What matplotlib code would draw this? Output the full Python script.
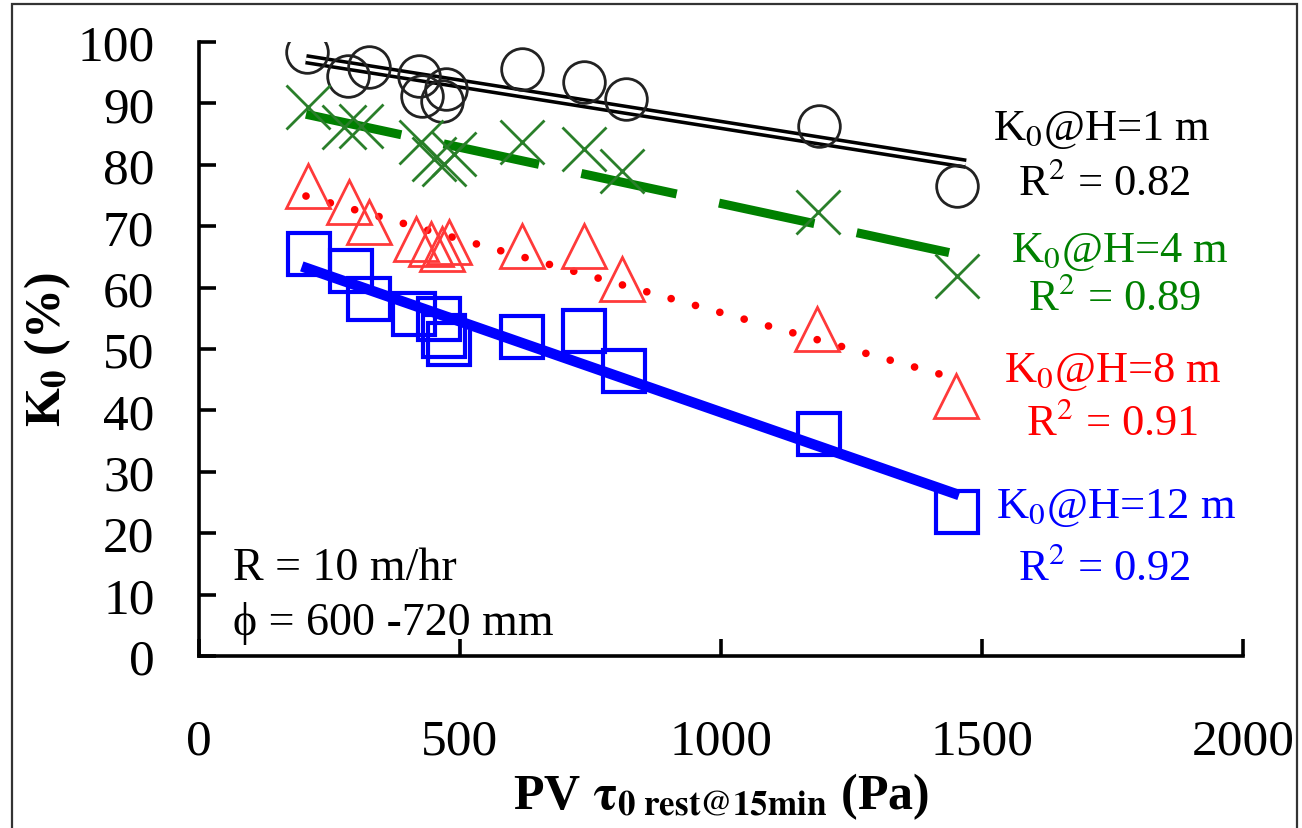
import numpy as np
import matplotlib
matplotlib.use("Agg")
import matplotlib.pyplot as plt
from matplotlib.patches import Rectangle

plt.rcParams['font.family'] = ['Liberation Serif', 'DejaVu Serif']
plt.rcParams['mathtext.fontset'] = 'stix'

# ---- data ----
x_h1 = [207, 285, 326, 421, 427, 466, 473, 619, 738, 818, 1188, 1452]
y_h1 = [98.4, 94.5, 95.9, 94.5, 91.2, 90.4, 92.3, 95.6, 93.5, 90.7, 86.3, 76.5]

x_h4 = [209, 278, 310, 425, 450, 469, 488, 619, 738, 810, 1186, 1452]
y_h4 = [89.4, 86.2, 86.3, 83.7, 81.0, 80.1, 81.8, 83.7, 82.6, 79.0, 72.3, 61.9]

x_h8 = [209, 287, 326, 416, 444, 466, 479, 619, 738, 810, 1184, 1450]
y_h8 = [76.5, 73.9, 70.7, 67.9, 67.1, 66.3, 67.4, 66.8, 66.8, 61.4, 53.3, 42.3]

x_h12 = [211, 291, 326, 412, 460, 469, 479, 619, 738, 814, 1188, 1452]
y_h12 = [65.5, 62.7, 58.1, 55.7, 54.9, 52.1, 50.8, 52.0, 52.9, 46.4, 36.2, 23.5]

# x extent of each trendline as drawn in the picture
trend_x_h1 = [205, 1469]
trend_x_h4 = [205, 1437]
trend_x_h8 = [205, 1435]
trend_x_h12 = [197, 1456]

series_labels = ['K$_0$@H=1 m', 'K$_0$@H=4 m', 'K$_0$@H=8 m', 'K$_0$@H=12 m']
r2_labels = ['R$^2$ = 0.82', 'R$^2$ = 0.89', 'R$^2$ = 0.91', 'R$^2$ = 0.92']
x_ticks = [0, 500, 1000, 1500, 2000]
y_ticks = [0, 10, 20, 30, 40, 50, 60, 70, 80, 90, 100]

fig = plt.figure(figsize=(13.02, 8.29), dpi=100)
ax = fig.add_axes([0.1528, 0.2075, 0.8019, 0.7405])

def trend(x, y, xr):
    x = np.asarray(x, float); y = np.asarray(y, float)
    k, b = np.polyfit(x, y, 1)
    xs = np.asarray(xr, float)
    return xs, k * xs + b

# H=1 m : black circles, double line
xs, ys = trend(x_h1, y_h1, trend_x_h1)
ax.plot(xs, ys, color='black', lw=7.5, solid_capstyle='butt', zorder=2)
ax.plot(xs, ys, color='white', lw=2.4, solid_capstyle='butt', zorder=2.1)
ax.plot(x_h1, y_h1, 'o', ms=30, mfc='none', mec='#222222', mew=2.0, zorder=3)

# H=4 m : green x, dashed
xs, ys = trend(x_h4, y_h4, trend_x_h4)
ax.plot(xs, ys, color='#008000', lw=6.5, linestyle=(0, (10.8, 4.8)), dash_capstyle='butt', zorder=2)
ax.plot(x_h4, y_h4, 'x', ms=32, mec='#2a7f2a', mew=2.0, zorder=3)

# H=8 m : red triangles, dotted
xs, ys = trend(x_h8, y_h8, trend_x_h8)
ax.plot(xs, ys, color='#FF0000', lw=5.5, linestyle=(0, (0.01, 3.3)), dash_capstyle='round', zorder=2)
ax.plot(x_h8, y_h8, '^', ms=31, mfc='none', mec='#FF3a3a', mew=2.0, zorder=3)

# H=12 m : blue squares, solid
xs, ys = trend(x_h12, y_h12, trend_x_h12)
ax.plot(xs, ys, color='#0000FF', lw=7.5, solid_capstyle='butt', zorder=2)
ax.plot(x_h12, y_h12, 's', ms=30, mfc='none', mec='#0000FF', mew=3.0, zorder=3)

ax.set_xlim(0, 2000)
ax.set_ylim(0, 100)
ax.set_xticks(x_ticks)
ax.set_yticks(y_ticks)
for s in ['top', 'right']:
    ax.spines[s].set_visible(False)
for s in ['left', 'bottom']:
    ax.spines[s].set_linewidth(2.6)
ax.tick_params(axis='both', direction='in', width=2.6, length=12, labelsize=37)
ax.tick_params(axis='x', pad=45)
ax.tick_params(axis='y', pad=32)

ax.set_ylabel('K$_\\mathbf{0}$ (%)', fontsize=36, fontweight='bold', labelpad=3)
ax.set_xlabel(r'PV $\mathbf{\tau}_{\mathbf{0\ rest@15min}}$ (Pa)', fontsize=36, fontweight='bold', labelpad=4)

def dx(px):
    return (px - 200) / 0.5215

def dy(py):
    return (657 - py) / 6.14

cols = ['black', '#008000', '#FF0000', '#0000FF']
lab_pos = [(1102, 140), (1120, 262), (1113, 382), (1116, 518)]
r2_pos = [(1105, 195), (1115, 310), (1112, 435), (1105, 580)]
for lab, r2, c, p1, p2 in zip(series_labels, r2_labels, cols, lab_pos, r2_pos):
    ax.text(dx(p1[0]), dy(p1[1]), lab, color=c, fontsize=32, ha='center', va='baseline')
    ax.text(dx(p2[0]), dy(p2[1]), r2, color=c, fontsize=32, ha='center', va='baseline')

ax.text(dx(234), dy(580), 'R = 10 m/hr', fontsize=33, ha='left', va='baseline')
ax.text(dx(234), dy(635), 'ϕ = 600 -720 mm', fontsize=33, ha='left', va='baseline')

# outer frame
fig.patches.append(Rectangle((12 / 1302, -0.05), (1297 - 12) / 1302, 1.05 - 5 / 829,
                             transform=fig.transFigure, fill=False, lw=1.6,
                             edgecolor='#333333', zorder=0))

fig.savefig('out.png', dpi=100)
